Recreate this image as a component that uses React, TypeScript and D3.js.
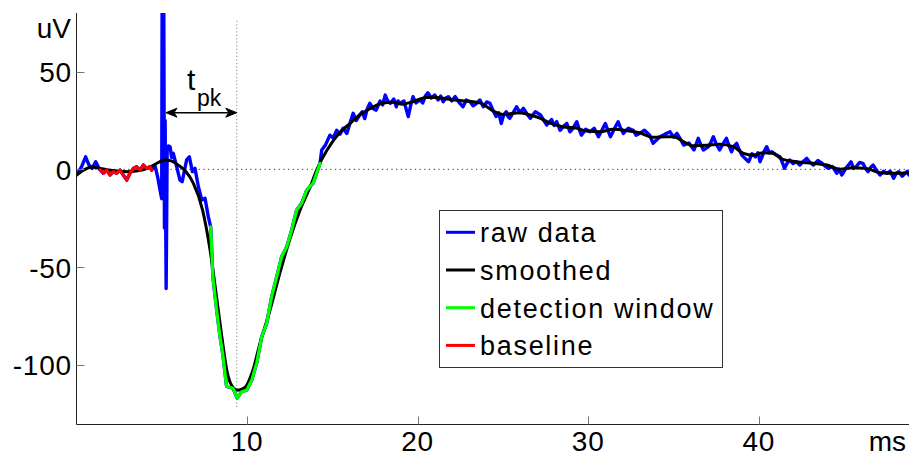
import React from "react";
import * as d3 from "d3";

// ---- data ----
const rawT = [
  0.0, 0.07, 0.3, 0.54, 0.74, 0.93, 1.13, 1.28,
  1.39, 1.58, 1.77, 1.97, 2.16, 2.36, 2.56, 2.75, 2.95, 3.14, 3.34, 3.53, 3.73, 3.92, 4.12, 4.31, 4.41,
  4.6, 4.76, 4.9, 5.0, 5.04, 5.1, 5.16, 5.2, 5.26, 5.32, 5.4, 5.49, 5.58, 5.68, 5.88, 6.07, 6.2, 6.46, 6.62, 6.8, 6.95, 7.15, 7.35, 7.54, 7.73,
  7.87, 8.0, 8.22, 8.42, 8.6, 8.8, 9.18, 9.42, 9.69, 9.98, 10.28, 10.57, 10.86, 11.15, 11.45, 11.74, 12.03, 12.33, 12.62, 12.91, 13.2, 13.5, 13.88, 14.28,
  14.38, 14.6, 14.86, 15.05, 15.26, 15.45, 15.63, 15.85, 16.05, 16.22, 16.4, 16.6, 16.75, 16.9, 17.05, 17.2, 17.4, 17.57, 17.8, 17.95,
  18.1, 18.25, 18.4, 18.6, 18.75, 18.85, 18.97, 19.2, 19.45, 19.6, 19.73, 19.9, 20.14, 20.3, 20.45, 20.6, 20.8, 21.0, 21.2, 21.35,
  21.5, 21.65, 21.8, 22.0, 22.2, 22.4, 22.66, 22.85, 23.07, 23.25, 23.46, 23.65, 23.85, 24.05, 24.24, 24.4, 24.6, 24.75, 24.9, 25.05,
  25.2, 25.3, 25.4, 25.6, 25.8, 26.0, 26.2, 26.4, 26.6, 26.9, 27.2, 27.4, 27.57, 27.85, 28.0, 28.15, 28.35, 28.55, 28.74, 28.93,
  29.1, 29.33, 29.45, 29.6, 29.85, 30.1, 30.35, 30.6, 30.8, 31.0, 31.15, 31.3, 31.55, 31.75, 31.9, 32.06, 32.35, 32.64, 32.8, 33.0,
  33.3, 33.6, 33.8, 34.0, 34.2, 34.5, 34.8, 35.0, 35.2, 35.4, 35.6, 35.9, 36.2, 36.45, 36.6, 36.75, 37.05, 37.2, 37.33, 37.5,
  37.7, 37.9, 38.1, 38.25, 38.4, 38.55, 38.7, 38.85, 39.0, 39.2, 39.4, 39.6, 39.8, 39.95, 40.07, 40.3, 40.46, 40.6, 40.75, 41.0,
  41.24, 41.4, 41.5, 41.65, 41.8, 42.0, 42.2, 42.4, 42.6, 42.8, 43.0, 43.2, 43.45, 43.7, 43.9, 44.07, 44.3, 44.57, 44.7, 44.86,
  45.1, 45.4, 45.55, 45.7, 45.9, 46.1, 46.25, 46.4, 46.55, 46.7, 46.9, 47.1, 47.3, 47.5, 47.7, 47.9, 48.05, 48.2, 48.4, 48.57, 48.7, 48.8,
];
const rawV = [
  -2.5, -2, 1.3, 6.4, 2.2, 0.5, 3.9, 1.3,
  -0.3, -2, -0.4, -2.9, -1.2, -2, -0.4, -2.9, -5.5, -2, 0.5, 1.3, -0.4, 2.2, 0.5, 1.3, -0.4,
  2.2, -3.8, -10.6, -15, 150, 150, -30, 25, -61, 10, 12, 11.6, 6, 8.2, 1.3, -5.5, -6.3, 4.8, 6.4, -1.2, 0.5, -8.9, -15.7, -14.8, -24.2,
  -29.4, -55, -72, -85.7, -96, -111, -112, -117, -113.8, -113, -107.8, -99, -85.7, -78.9, -65, -55, -44.7, -39.6, -31, -20.8, -17.4, -10.6, -7, 3.1,
  9.9, 12.5, 17.5, 16, 20, 18, 21, 18.4, 24, 28.7, 25, 27.8, 29.5, 26, 31, 33.8, 31, 30.3, 35, 33,
  38, 35, 33.8, 36, 32, 35, 33.8, 35, 27, 33, 37.2, 34, 35.5, 34, 37.5, 39.2, 36.5, 38, 35.5, 37.5,
  34.6, 36.5, 37.2, 35, 37.2, 34.5, 32, 35.5, 34.6, 32.5, 33.8, 35.5, 32, 34.5, 33.8, 30.5, 27, 29, 23.5, 28,
  29.5, 27, 26.1, 29, 32, 29, 31.2, 28.5, 26.1, 29.5, 27.8, 25, 22.7, 25.5, 22.5, 24.4, 20, 22, 23.5, 19.2,
  21, 24.4, 21, 17.5, 20.5, 19.2, 21, 16.7, 20, 23.5, 20, 16.7, 21, 24.4, 21, 18.4, 21, 20, 17.5, 18.4,
  20, 17.5, 13.3, 15, 16.7, 18, 19.2, 16.5, 18.4, 15.5, 12.4, 13.5, 9.9, 15.9, 12.5, 9.9, 11.6, 14, 16.7, 13,
  9.9, 13, 15.9, 12, 9, 12, 13.3, 10, 7.3, 5.5, 3.9, 8, 6.4, 8.5, 3.9, 9, 11.6, 8.5, 9, 7.5,
  6.4, 3, 0.5, 3, 4.8, 3, 3.9, 2.2, 4, 5.6, 3.5, 2.2, 4.5, 3.1, 1.5, 0.5, 1.5, -2, 0, -2.9,
  0.5, 3.9, 0.5, 1.3, 3.5, 3.1, 0.5, -1.2, 1, 2.2, -0.5, -2.9, -1, -2, -1, -4.6, -2, -1.2, -3.5, -2, -1, -2.9,
];
const smoothT = [
  0, 0.5, 0.9, 1.4, 2.0, 2.5, 3.0, 3.5, 4.0, 4.5, 4.9, 5.2, 5.6, 6.0, 6.4, 6.85, 7.4, 7.83, 8.24, 8.53, 8.82, 9.18, 9.47, 9.88,
  10.3, 10.76, 11.35, 11.93, 12.5, 13.1, 13.7, 14.1, 14.7, 15.45, 16.04, 16.6, 17.2, 17.97, 18.56, 19.1, 19.7, 20.5, 21.1, 21.85,
  22.6, 23.66, 24.4, 25.0, 26.0, 26.6, 27.2, 27.8, 28.5, 29.35, 29.9, 30.7, 31.45, 32.3, 33.0, 33.8, 34.6, 35.0, 35.6, 36.1, 36.96,
  37.7, 38.5, 39.1, 39.7, 40.26, 40.8, 41.4, 42.2, 43.2, 44.0, 44.76, 45.5, 46.3, 47.1, 47.9, 48.8,
];
const smoothV = [
  -3, 0, 1.2, 0.5, -0.5, -1, -1.2, -0.8, 0, 2, 4, 4.8, 4.2, 2, -1, -7, -21, -41, -67, -86, -103, -111.6, -113, -111.6,
  -104, -89, -72, -53, -36, -21, -9, 0, 10, 19, 23.5, 27.8, 31, 34, 34.3, 33.3, 34.6, 36.8, 36.8, 35.8,
  35.1, 34, 30, 28.1, 29, 27.8, 26.1, 23.5, 21.8, 21, 19.6, 19.2, 20.5, 19.8, 18.7, 16.4, 16.7, 16.7, 14.1, 12.1, 12.3,
  12.9, 11.6, 8.2, 7.3, 8.5, 8.2, 5.1, 3.9, 3.1, 2.2, 0, 0.8, 0.5, -1.7, -2, -1.7,
];
const detectionWindow = [7.87, 14.28];
const baselineWindow = [1.39, 4.41];
const tPeak = 9.4;
const tpkStart = 5.25;
const tpkArrowV = 29;
const tpkLineV = [76, -122];
const xTicks = [10, 20, 30, 40];
const yTicks = [50, 0, -50, -100];
const xDomain = [0, 48.8];
const yDomain = [-130.3, 80];
const legendLabels = ["raw data", "smoothed", "detection window", "baseline"];
const seriesColors = ["#0000ff", "#000000", "#00ff00", "#ff0000"];

const W = 909;
const H = 457;
const L = 76.4, R = 909, T = 13, B = 424;
const FONT = "'Liberation Sans', Arial, Helvetica, sans-serif";

export default function App() {
  const x = d3.scaleLinear().domain(xDomain).range([L, R]);
  const y = d3.scaleLinear().domain(yDomain).range([B, T]);

  const raw = rawT.map((t, i) => [t, rawV[i]] as [number, number]);
  const smooth = smoothT.map((t, i) => [t, smoothV[i]] as [number, number]);
  const det = raw.filter((d) => d[0] >= detectionWindow[0] && d[0] <= detectionWindow[1]);
  const base = raw.filter((d) => d[0] >= baselineWindow[0] && d[0] <= baselineWindow[1]);

  const lin = d3.line<[number, number]>().x((d) => x(d[0])).y((d) => y(d[1]));
  const smoothLine = d3
    .line<[number, number]>()
    .x((d) => x(d[0]))
    .y((d) => y(d[1]))
    .curve(d3.curveMonotoneX);

  const axX = 76.5;
  const axY = 424.5;
  const ax1 = x(tpkStart);
  const ax2 = x(tPeak);
  const ay = y(tpkArrowV);

  const legX = 439.5, legY = 210.5, legW = 283, legH = 157;
  const rowH = 37.7;

  return (
    <svg
      width={W}
      height={H}
      style={{ position: "absolute", left: 0, top: 0, background: "#fff" }}
      fontFamily={FONT}
    >
      <defs>
        <clipPath id="plotclip">
          <rect x={L} y={T} width={R - L} height={B - T} />
        </clipPath>
      </defs>
      <rect x={0} y={0} width={W} height={H} fill="#fff" />

      {/* zero line */}
      <line x1={axX} x2={R} y1={y(0)} y2={y(0)} stroke="#333" strokeWidth={1} strokeDasharray="1.2,3.5" />
      {/* peak line */}
      <line x1={x(tPeak)} x2={x(tPeak)} y1={y(tpkLineV[0])} y2={y(tpkLineV[1])} stroke="#888" strokeWidth={1} strokeDasharray="1.2,2.3" />

      <g clipPath="url(#plotclip)" fill="none" strokeLinejoin="round" strokeLinecap="round">
        <path d={lin(raw) || ""} stroke={seriesColors[0]} strokeWidth={3.4} />
        <path d={smoothLine(smooth) || ""} stroke={seriesColors[1]} strokeWidth={3} />
        <path d={lin(det) || ""} stroke={seriesColors[2]} strokeWidth={3.2} />
        <path d={lin(base) || ""} stroke={seriesColors[3]} strokeWidth={3.2} />
      </g>

      {/* axes */}
      <line x1={axX} x2={axX} y1={T} y2={axY} stroke="#222" strokeWidth={1} />
      <line x1={axX} x2={R} y1={axY} y2={axY} stroke="#222" strokeWidth={1} />
      {yTicks.map((v) => (
        <g key={"y" + v}>
          <line x1={axX} x2={axX + 8} y1={Math.round(y(v)) + 0.5} y2={Math.round(y(v)) + 0.5} stroke="#777" />
          <text x={72} y={y(v) + 10.5} textAnchor="end" fontSize={28} letterSpacing={0.8} fill="#000">
            {String(v)}
          </text>
        </g>
      ))}
      {xTicks.map((v) => (
        <g key={"x" + v}>
          <line x1={Math.round(x(v)) + 0.5} x2={Math.round(x(v)) + 0.5} y1={axY} y2={axY - 8} stroke="#777" />
          <text x={x(v)} y={451} textAnchor="middle" fontSize={28} letterSpacing={0.8} fill="#000">
            {String(v)}
          </text>
        </g>
      ))}
      <text x={71} y={38} textAnchor="end" fontSize={28} fill="#000">uV</text>
      <text x={906} y={451} textAnchor="end" fontSize={28} fill="#000">ms</text>

      {/* t_pk arrow */}
      <line x1={ax1 + 8} x2={ax2 - 8} y1={ay} y2={ay} stroke="#000" strokeWidth={1.5} />
      <path d={`M${ax1},${ay} L${ax1 + 11},${ay - 4.5} L${ax1 + 8},${ay} L${ax1 + 11},${ay + 4.5} Z`} fill="#000" stroke="#000" strokeWidth={1} />
      <path d={`M${ax2},${ay} L${ax2 - 11},${ay - 4.5} L${ax2 - 8},${ay} L${ax2 - 11},${ay + 4.5} Z`} fill="#000" stroke="#000" strokeWidth={1} />
      <text x={187} y={90} fontSize={30} fill="#000">t</text>
      <text x={197} y={106} fontSize={23} fill="#000">pk</text>

      {/* legend */}
      <rect x={legX} y={legY} width={legW} height={legH} fill="#fff" stroke="#333" strokeWidth={1} />
      {legendLabels.map((lab, i) => {
        const base = 242.3 + i * rowH;
        return (
          <g key={lab}>
            <line x1={446} x2={475} y1={base - 10} y2={base - 10} stroke={seriesColors[i]} strokeWidth={3} />
            <text x={480} y={base} fontSize={27} letterSpacing={1.7} fill="#000">
              {lab}
            </text>
          </g>
        );
      })}
    </svg>
  );
}
